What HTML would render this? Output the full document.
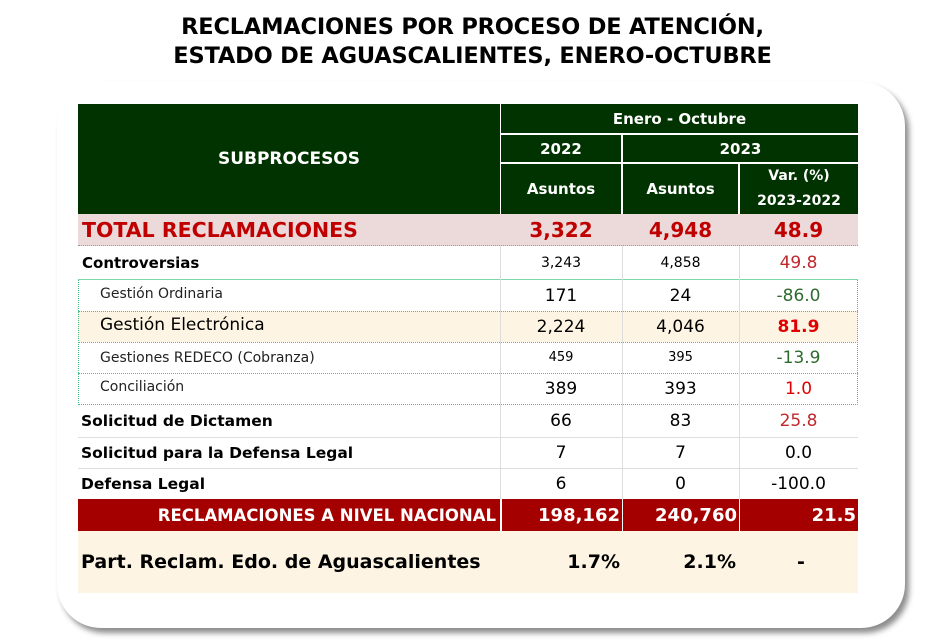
<!DOCTYPE html>
<html><head><meta charset="utf-8"><style>
*{margin:0;padding:0;box-sizing:border-box}
body{width:945px;height:640px;background:#fff;position:relative;overflow:hidden;font-family:"DejaVu Sans","Liberation Sans",sans-serif}
.t{position:absolute;left:0;width:945px;text-align:center;font-weight:bold;font-size:22.5px;color:#000;letter-spacing:-0.2px}
.card{position:absolute;left:57px;top:82px;width:848px;height:546px;border-radius:44px;background:#fff;box-shadow:4px 5px 6px rgba(0,0,0,0.45)}
.c{position:absolute;display:flex;align-items:center;justify-content:center;white-space:nowrap}
.hd{background:#003300;color:#fff;font-weight:bold;font-size:15px}
.l{justify-content:flex-start}
</style></head><body>
<div class="t" style="top:14px">RECLAMACIONES POR PROCESO DE ATENCIÓN,</div>
<div class="t" style="top:43px">ESTADO DE AGUASCALIENTES, ENERO-OCTUBRE</div>
<div class="card"></div>

<div class="c hd" style="left:78px;top:104px;width:422px;height:110px;font-size:17px">SUBPROCESOS</div>
<div class="c hd" style="left:501px;top:104px;width:357px;height:29px">Enero - Octubre</div>
<div class="c hd" style="left:501px;top:135px;width:120px;height:27px">2022</div>
<div class="c hd" style="left:623px;top:135px;width:235px;height:27px">2023</div>
<div class="c hd" style="left:501px;top:164px;width:120px;height:50px">Asuntos</div>
<div class="c hd" style="left:623px;top:164px;width:115px;height:50px">Asuntos</div>
<div class="c hd" style="left:740px;top:164px;width:118px;height:50px;flex-direction:column;line-height:25px;font-size:14px"><span>Var. (%)</span><span>2023-2022</span></div>

<div style="position:absolute;left:78px;top:214px;width:780px;height:32px;background:#ecd9d9;border-bottom:1px dotted #999"></div>
<div class="c l" style="left:82px;top:214px;height:32px;font-weight:bold;font-size:20.5px;color:#c00000">TOTAL RECLAMACIONES</div>
<div class="c" style="left:500px;top:214px;width:122px;height:32px;font-weight:bold;font-size:20px;color:#c00000">3,322</div>
<div class="c" style="left:622px;top:214px;width:117px;height:32px;font-weight:bold;font-size:20px;color:#c00000">4,948</div>
<div class="c" style="left:739px;top:214px;width:119px;height:32px;font-weight:bold;font-size:20px;color:#c00000">48.9</div>

<div style="position:absolute;left:78px;top:246px;width:780px;height:34px;border-bottom:1px solid #7fd6a8"></div>
<div class="c l" style="left:82px;top:246px;height:34px;font-weight:bold;font-size:15px">Controversias</div>
<div class="c" style="left:500px;top:246px;width:122px;height:34px;font-size:14px">3,243</div>
<div class="c" style="left:622px;top:246px;width:117px;height:34px;font-size:14px">4,858</div>
<div class="c" style="left:739px;top:246px;width:119px;height:34px;font-size:17px;color:#c0282d">49.8</div>

<div style="position:absolute;left:78px;top:311px;width:780px;height:31px;background:#fdf4e3"></div>
<div style="position:absolute;left:78px;top:280px;width:780px;height:125px;border:1px dotted #4cc08a;border-top:none"></div>
<div style="position:absolute;left:78px;top:311px;width:780px;border-top:1px dotted #4cc08a"></div>
<div style="position:absolute;left:78px;top:342px;width:780px;border-top:1px dotted #4cc08a"></div>
<div style="position:absolute;left:78px;top:373px;width:780px;border-top:1px dotted #4cc08a"></div>

<div class="c l" style="left:100px;top:280px;height:27px;font-size:14px;color:#222">Gestión Ordinaria</div>
<div class="c" style="left:500px;top:280px;width:122px;height:31px;font-size:17px">171</div>
<div class="c" style="left:622px;top:280px;width:117px;height:31px;font-size:17px">24</div>
<div class="c" style="left:739px;top:280px;width:119px;height:31px;font-size:17px;color:#2e6b2e">-86.0</div>

<div class="c l" style="left:100px;top:309px;height:31px;font-size:17px">Gestión Electrónica</div>
<div class="c" style="left:500px;top:311px;width:122px;height:31px;font-size:17px">2,224</div>
<div class="c" style="left:622px;top:311px;width:117px;height:31px;font-size:17px">4,046</div>
<div class="c" style="left:739px;top:311px;width:119px;height:31px;font-size:17px;font-weight:bold;color:#e00000">81.9</div>

<div class="c l" style="left:100px;top:342px;height:31px;font-size:14px;color:#222">Gestiones REDECO (Cobranza)</div>
<div class="c" style="left:500px;top:342px;width:122px;height:31px;font-size:13px">459</div>
<div class="c" style="left:622px;top:342px;width:117px;height:31px;font-size:13px">395</div>
<div class="c" style="left:739px;top:342px;width:119px;height:31px;font-size:17px;color:#2e6b2e">-13.9</div>

<div class="c l" style="left:100px;top:373px;height:28px;font-size:14px;color:#222">Conciliación</div>
<div class="c" style="left:500px;top:373px;width:122px;height:32px;font-size:17px">389</div>
<div class="c" style="left:622px;top:373px;width:117px;height:32px;font-size:17px">393</div>
<div class="c" style="left:739px;top:373px;width:119px;height:32px;font-size:17px;color:#e00000">1.0</div>

<div style="position:absolute;left:78px;top:437px;width:780px;border-top:1px solid #ddd"></div>
<div style="position:absolute;left:78px;top:468px;width:780px;border-top:1px solid #ddd"></div>
<div class="c l" style="left:81px;top:405px;height:32px;font-weight:bold;font-size:15.5px">Solicitud de Dictamen</div>
<div class="c" style="left:500px;top:405px;width:122px;height:32px;font-size:17px">66</div>
<div class="c" style="left:622px;top:405px;width:117px;height:32px;font-size:17px">83</div>
<div class="c" style="left:739px;top:405px;width:119px;height:32px;font-size:17px;color:#c0282d">25.8</div>
<div class="c l" style="left:81px;top:437px;height:31px;font-weight:bold;font-size:15.5px">Solicitud para la Defensa Legal</div>
<div class="c" style="left:500px;top:437px;width:122px;height:31px;font-size:17px">7</div>
<div class="c" style="left:622px;top:437px;width:117px;height:31px;font-size:17px">7</div>
<div class="c" style="left:739px;top:437px;width:119px;height:31px;font-size:17px">0.0</div>
<div class="c l" style="left:81px;top:468px;height:31px;font-weight:bold;font-size:15.5px">Defensa Legal</div>
<div class="c" style="left:500px;top:468px;width:122px;height:31px;font-size:17px">6</div>
<div class="c" style="left:622px;top:468px;width:117px;height:31px;font-size:17px">0</div>
<div class="c" style="left:739px;top:468px;width:119px;height:31px;font-size:17px">-100.0</div>
<div style="position:absolute;left:500px;top:246px;height:253px;border-left:1px solid #ddd"></div>
<div style="position:absolute;left:622px;top:246px;height:253px;border-left:1px solid #ddd"></div>
<div style="position:absolute;left:739px;top:246px;height:253px;border-left:1px solid #ddd"></div>

<div style="position:absolute;left:78px;top:499px;width:780px;height:32px;background:#a50000"></div>
<div class="c" style="left:78px;top:499px;width:418px;height:32px;justify-content:flex-end;color:#fff;font-weight:bold;font-size:16.5px">RECLAMACIONES A NIVEL NACIONAL</div>
<div class="c" style="left:501px;top:499px;width:119px;height:32px;justify-content:flex-end;color:#fff;font-weight:bold;font-size:18px">198,162</div>
<div class="c" style="left:623px;top:499px;width:114px;height:32px;justify-content:flex-end;color:#fff;font-weight:bold;font-size:18px">240,760</div>
<div class="c" style="left:740px;top:499px;width:116px;height:32px;justify-content:flex-end;color:#fff;font-weight:bold;font-size:18px">21.5</div>
<div style="position:absolute;left:500px;top:499px;height:32px;border-left:2px solid #fff"></div>
<div style="position:absolute;left:622px;top:499px;height:32px;border-left:1px solid #fff"></div>
<div style="position:absolute;left:739px;top:499px;height:32px;border-left:1px solid #fff"></div>

<div style="position:absolute;left:78px;top:531px;width:780px;height:62px;background:#fdf4e3"></div>
<div class="c l" style="left:81px;top:531px;height:62px;font-weight:bold;font-size:19px">Part. Reclam. Edo. de Aguascalientes</div>
<div class="c" style="left:500px;top:531px;width:120px;height:62px;justify-content:flex-end;font-weight:bold;font-size:19px">1.7%</div>
<div class="c" style="left:622px;top:531px;width:114px;height:62px;justify-content:flex-end;font-weight:bold;font-size:19px">2.1%</div>
<div class="c" style="left:739px;top:531px;width:119px;height:62px;justify-content:flex-start;padding-left:58px;font-weight:bold;font-size:19px">-</div>
</body></html>
